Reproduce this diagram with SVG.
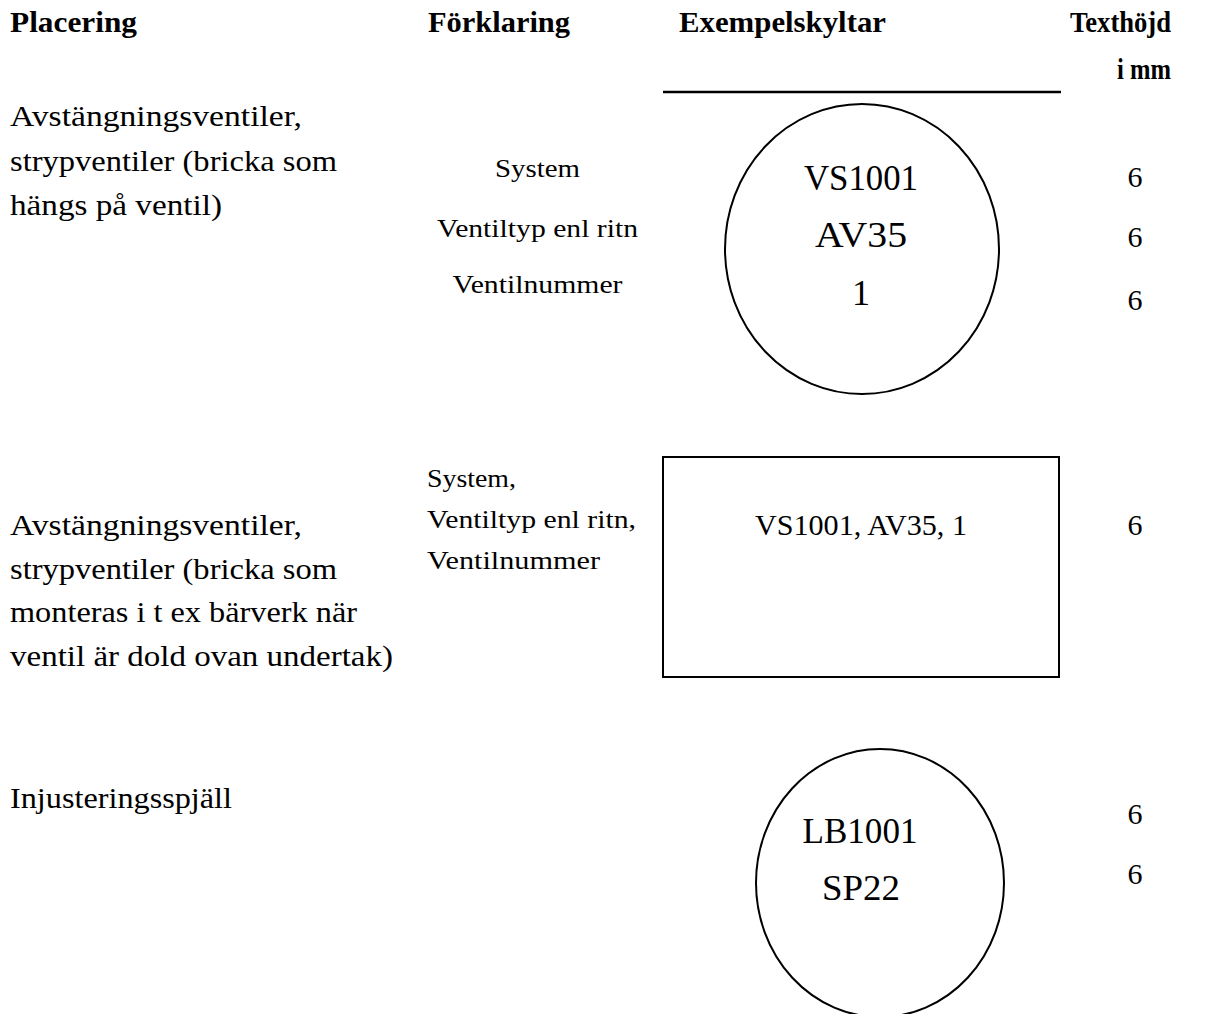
<svg xmlns="http://www.w3.org/2000/svg" width="1214" height="1014" viewBox="0 0 1214 1014">
<style>
text{font-family:"Liberation Serif","DejaVu Serif",serif;fill:#000}
.h{font-size:30px;font-weight:bold}
.b{font-size:30px}
.s{font-size:26px}
.m{text-anchor:middle}
.sign{font-size:36px;text-anchor:middle}
.shape{fill:none;stroke:#000;stroke-width:2}
</style>
<rect width="1214" height="1014" fill="#fff"/>
<g id="header">
<text class="h" x="10" y="32" textLength="127" lengthAdjust="spacingAndGlyphs">Placering</text>
<text class="h" x="428" y="32" textLength="142" lengthAdjust="spacingAndGlyphs">Förklaring</text>
<text class="h" x="679" y="32" textLength="207" lengthAdjust="spacingAndGlyphs">Exempelskyltar</text>
<text class="h" x="1070" y="32" textLength="101" lengthAdjust="spacingAndGlyphs">Texthöjd</text>
<text class="h" x="1117" y="79" textLength="54" lengthAdjust="spacingAndGlyphs">i mm</text>
<line x1="663" y1="92" x2="1061" y2="92" stroke="#000" stroke-width="2.5"/>
</g>
<g id="row1">
<text class="b" x="10" y="126" textLength="292" lengthAdjust="spacingAndGlyphs">Avstängningsventiler,</text>
<text class="b" x="10" y="171" textLength="327" lengthAdjust="spacingAndGlyphs">strypventiler (bricka som</text>
<text class="b" x="10" y="215" textLength="212" lengthAdjust="spacingAndGlyphs">hängs på ventil)</text>
<text class="s m" x="537.5" y="177" textLength="85" lengthAdjust="spacingAndGlyphs">System</text>
<text class="s m" x="537.5" y="237" textLength="201" lengthAdjust="spacingAndGlyphs">Ventiltyp enl ritn</text>
<text class="s m" x="537.5" y="293" textLength="170" lengthAdjust="spacingAndGlyphs">Ventilnummer</text>
<g id="sign1">
<ellipse class="shape" cx="862" cy="249" rx="137" ry="145" stroke-width="1.6"/>
<text class="sign" x="861" y="190" textLength="114" lengthAdjust="spacingAndGlyphs">VS1001</text>
<text class="sign" x="861" y="247" textLength="92" lengthAdjust="spacingAndGlyphs">AV35</text>
<text class="sign" x="861" y="305">1</text>
</g>
<text class="b m" x="1135" y="187">6</text>
<text class="b m" x="1135" y="247">6</text>
<text class="b m" x="1135" y="310">6</text>
</g>
<g id="row2">
<text class="b" x="10" y="535" textLength="292" lengthAdjust="spacingAndGlyphs">Avstängningsventiler,</text>
<text class="b" x="10" y="579" textLength="327" lengthAdjust="spacingAndGlyphs">strypventiler (bricka som</text>
<text class="b" x="10" y="622" textLength="347" lengthAdjust="spacingAndGlyphs">monteras i t ex bärverk när</text>
<text class="b" x="10" y="666" textLength="383" lengthAdjust="spacingAndGlyphs">ventil är dold ovan undertak)</text>
<text class="s" x="427" y="487" textLength="89" lengthAdjust="spacingAndGlyphs">System,</text>
<text class="s" x="427" y="528" textLength="209" lengthAdjust="spacingAndGlyphs">Ventiltyp enl ritn,</text>
<text class="s" x="427" y="569" textLength="173" lengthAdjust="spacingAndGlyphs">Ventilnummer</text>
<g id="sign2">
<rect class="shape" x="663" y="457" width="396" height="220"/>
<text class="b m" x="861" y="535" textLength="212" lengthAdjust="spacingAndGlyphs">VS1001, AV35, 1</text>
</g>
<text class="b m" x="1135" y="535">6</text>
</g>
<g id="row3">
<text class="b" x="10" y="808" textLength="222" lengthAdjust="spacingAndGlyphs">Injusteringsspjäll</text>
<g id="sign3">
<ellipse class="shape" cx="880" cy="883" rx="124" ry="134" stroke-width="1.6"/>
<text class="sign" x="860" y="843" textLength="115" lengthAdjust="spacingAndGlyphs">LB1001</text>
<text class="sign" x="861" y="900" textLength="78" lengthAdjust="spacingAndGlyphs">SP22</text>
</g>
<text class="b m" x="1135" y="824">6</text>
<text class="b m" x="1135" y="884">6</text>
</g>
</svg>
